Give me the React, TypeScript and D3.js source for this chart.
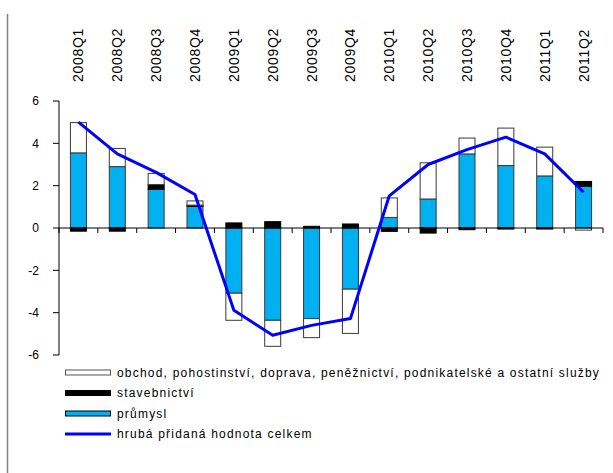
import * as d3 from 'd3'
import { useEffect, useRef, type ReactElement } from 'react'

const quarters = [
  '2008Q1', '2008Q2', '2008Q3', '2008Q4',
  '2009Q1', '2009Q2', '2009Q3', '2009Q4',
  '2010Q1', '2010Q2', '2010Q3', '2010Q4',
  '2011Q1', '2011Q2',
]

// contributions to GVA growth, p.b.
const prumysl = [3.55, 2.9, 1.83, 1.02, -3.08, -4.36, -4.28, -2.89, 0.5, 1.37, 3.5, 2.95, 2.46, 1.97]
const stavebnictvi = [-0.15, -0.15, 0.22, 0.06, 0.24, 0.3, 0.08, 0.19, -0.16, -0.24, -0.08, -0.05, -0.05, 0.23]
const sluzby = [1.43, 0.86, 0.53, 0.2, -1.28, -1.23, -0.9, -2.09, 0.92, 1.71, 0.75, 1.77, 1.36, -0.1]
const hphCelkem = [5.0, 3.5, 2.63, 1.58, -3.89, -5.07, -4.6, -4.28, 1.52, 3.0, 3.7, 4.29, 3.5, 1.69]

const yTicks = [-6, -4, -2, 0, 2, 4, 6]

const seriesKeys = ['prumysl', 'stavebnictvi', 'sluzby'] as const
type Row = { q: string; prumysl: number; stavebnictvi: number; sluzby: number }

const fills: Record<string, string> = {
  prumysl: '#00b0f0',
  stavebnictvi: '#000000',
  sluzby: '#ffffff',
}

const legendItems = [
  { label: 'obchod, pohostinství, doprava, peněžnictví, podnikatelské a ostatní služby', kind: 'sluzby' },
  { label: 'stavebnictví', kind: 'stavebnictvi' },
  { label: 'průmysl', kind: 'prumysl' },
  { label: 'hrubá přidaná hodnota celkem', kind: 'line' },
]

const width = 613
const height = 473
const font = '"Liberation Sans", Arial, sans-serif'

export default function App(): ReactElement {
  const svgRef = useRef<SVGSVGElement>(null)

  useEffect(() => {
    const svgElement = svgRef.current
    if (!svgElement) return
    const svg = d3.select(svgElement)
    svg.selectAll('*').remove()

    const rows: Row[] = quarters.map((q, i) => ({
      q,
      prumysl: prumysl[i],
      stavebnictvi: stavebnictvi[i],
      sluzby: sluzby[i],
    }))

    const x = d3.scaleBand().domain(quarters).range([59, 603]).padding(0)
    const y = d3.scaleLinear().domain([-6, 6]).range([355, 101])
    const barW = 16

    // frame line on the left
    svg.append('line')
      .attr('x1', 7.5).attr('x2', 7.5).attr('y1', 14).attr('y2', height)
      .attr('stroke', '#808080').attr('stroke-width', 1.5)

    const stack = d3.stack<Row>()
      .keys(seriesKeys as unknown as string[])
      .offset(d3.stackOffsetDiverging)
    const layers = stack(rows)

    const bars = svg.append('g')
    layers.forEach((layer) => {
      bars.append('g')
        .selectAll('rect')
        .data(layer)
        .join('rect')
        .attr('x', (d) => x(d.data.q)! + x.bandwidth() / 2 - barW / 2)
        .attr('y', (d) => y(Math.max(d[0], d[1])))
        .attr('width', barW)
        .attr('height', (d) => Math.abs(y(d[0]) - y(d[1])))
        .attr('fill', fills[layer.key])
        .attr('stroke', layer.key === 'stavebnictvi' ? '#000' : '#3a3a3a')
        .attr('stroke-width', 1)
    })

    // y axis
    const yAxis = svg.append('g').attr('transform', 'translate(59,0)')
    yAxis.append('line').attr('y1', y(6)).attr('y2', y(-6)).attr('stroke', '#000')
    yAxis.selectAll('g.tick')
      .data(yTicks)
      .join('g')
      .attr('class', 'tick')
      .attr('transform', (d) => `translate(0,${y(d)})`)
      .call((g) => {
        g.append('line').attr('x1', -6).attr('x2', 0).attr('stroke', '#000')
        g.append('text')
          .attr('x', -20)
          .attr('dy', '0.35em')
          .attr('text-anchor', 'end')
          .attr('font-family', font)
          .attr('font-size', 12)
          .attr('fill', '#000')
          .text((d) => String(d))
      })

    // zero axis with category ticks
    const xAxis = svg.append('g').attr('transform', `translate(0,${y(0)})`)
    xAxis.append('line').attr('x1', 59).attr('x2', 603).attr('stroke', '#000')
    const edges = [...quarters.map((q) => x(q)!), 603]
    xAxis.selectAll('line.tick')
      .data(edges)
      .join('line')
      .attr('class', 'tick')
      .attr('x1', (d) => d).attr('x2', (d) => d)
      .attr('y1', 0).attr('y2', 5)
      .attr('stroke', '#000')

    // category labels on top, rotated
    svg.append('g')
      .selectAll('text')
      .data(quarters)
      .join('text')
      .attr('transform', (d) => `translate(${x(d)! + x.bandwidth() / 2},82) rotate(-90)`)
      .attr('dy', '0.36em')
      .attr('text-anchor', 'start')
      .attr('font-family', font)
      .attr('font-size', 14)
      .attr('letter-spacing', 0.7)
      .attr('fill', '#000')
      .text((d) => d)

    // total line
    const line = d3.line<number>()
      .x((_, i) => x(quarters[i])! + x.bandwidth() / 2)
      .y((d) => y(d))
    svg.append('path')
      .datum(hphCelkem)
      .attr('fill', 'none')
      .attr('stroke', '#0000ff')
      .attr('stroke-width', 3)
      .attr('stroke-linejoin', 'round')
      .attr('d', line)

    // legend
    const legend = svg.append('g').attr('font-family', font).attr('font-size', 12)
    legendItems.forEach((item, i) => {
      const cy = 372.5 + i * 20.5
      const g = legend.append('g').attr('transform', `translate(0,${cy})`)
      if (item.kind === 'line') {
        g.append('line').attr('x1', 65).attr('x2', 111).attr('stroke', '#0000ff').attr('stroke-width', 3)
      } else {
        g.append('rect')
          .attr('x', 65.5).attr('y', -2.5).attr('width', 45).attr('height', 5)
          .attr('fill', fills[item.kind])
          .attr('stroke', item.kind === 'sluzby' ? '#555' : '#000')
      }
      g.append('text')
        .attr('x', 117)
        .attr('y', 4)
        .attr('letter-spacing', 1.2)
        .attr('fill', '#000')
        .text(item.label)
    })
  }, [])

  return (
    <svg
      ref={svgRef}
      width={width}
      height={height}
      style={{ position: 'absolute', left: 0, top: 0, background: '#fff' }}
    />
  )
}
